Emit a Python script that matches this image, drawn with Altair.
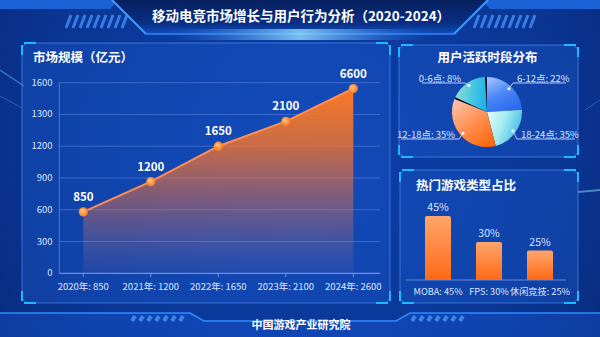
import altair as alt
import pandas as pd

# ---------------- data ----------------
years = ["2020年: 850", "2021年: 1200", "2022年: 1650", "2023年: 2100", "2024年: 2600"]
market_size = [580, 865, 1200, 1435, 1745]
market_labels = ["850", "1200", "1650", "2100", "6600"]
y_tick_values = [0, 300, 600, 900, 1200, 1500, 1800]
y_tick_labels = ["0", "300", "600", "900", "1200", "1300", "1600"]

periods = ["6-12点", "18-24点", "12-18点", "0-6点"]
period_share = [24, 22, 35, 19]
period_labels = ["6-12点: 22%", "18-24点: 35%", "12-18点: 35%", "0-6点: 8%"]

genres = ["MOBA", "FPS", "休闲竞技"]
genre_share = [45, 30, 25]

# ---------------- layout / style ----------------
W, H = 600, 337
FONT = "Noto Sans CJK SC"
TXT = "#dbe6ff"
CYAN = "#22b8ff"
ONE = pd.DataFrame({"k": [1]})


def lin(stops, x1=0, y1=0, x2=0, y2=1):
    return alt.LinearGradient(
        gradient="linear",
        stops=[alt.GradientStop(color=c, offset=o) for o, c in stops],
        x1=x1, y1=y1, x2=x2, y2=y2)


def rad(stops, x1=0.5, y1=0.5, r1=0, x2=0.5, y2=0.5, r2=0.5):
    return alt.RadialGradient(
        gradient="radial",
        stops=[alt.GradientStop(color=c, offset=o) for o, c in stops],
        x1=x1, y1=y1, r1=r1, x2=x2, y2=y2, r2=r2)


def deco_rect(x, y, x2, y2, **mk):
    return alt.Chart(ONE).mark_rect(**mk).encode(
        x=alt.value(x), y=alt.value(y), x2=alt.value(x2), y2=alt.value(y2))


def deco_rule(x, y, x2, y2, **mk):
    return alt.Chart(ONE).mark_rule(**mk).encode(
        x=alt.value(x), y=alt.value(y), x2=alt.value(x2), y2=alt.value(y2))


def deco_poly(px, top, bot, **mk):
    d = pd.DataFrame({"px": px, "top": top, "bot": bot})
    return alt.Chart(d).mark_area(**mk).encode(
        x=alt.X("px:Q", scale=None), y=alt.Y("bot:Q", scale=None), y2="top:Q")


def deco_text(x, y, text, **mk):
    return alt.Chart(ONE).mark_text(text=text, font=FONT, **mk).encode(
        x=alt.value(x), y=alt.value(y))


def panel(x0, y0, x1, y1):
    parts = [deco_rect(x0, y0, x1, y1, cornerRadius=7,
                       fill="rgba(30,95,215,0.32)",
                       stroke="rgba(90,160,255,0.55)", strokeWidth=1)]
    a = 12
    kw = dict(color=CYAN, strokeWidth=2)
    for cx, sx in ((x0, 1), (x1, -1)):
        for cy, sy in ((y0, 1), (y1, -1)):
            parts.append(deco_rule(cx, cy + sy * 2, cx, cy + sy * a, **kw))
            parts.append(deco_rule(cx + sx * 2, cy, cx + sx * (a + 2), cy, **kw))
    return parts


def stripes(x_start, y_top, y_bot, n, step, lean, colour, width=3):
    return [deco_rule(x_start + i * step, y_bot, x_start + i * step + lean, y_top,
                      color=colour, strokeWidth=width) for i in range(n)]


layers = []

# ---------------- backdrop ----------------
layers.append(deco_rect(0, 0, W, H, fill=rad(
    [(0, "#0d41ad"), (0.6, "#0a3593"), (1, "#062166")],
    x1=0.5, y1=0.45, r1=0, x2=0.5, y2=0.45, r2=0.75)))
layers.append(deco_rule(0, 70, 24, 86, color="rgba(120,200,255,0.45)", strokeWidth=1.5))
layers.append(deco_rule(0, 96, 22, 108, color="rgba(120,200,255,0.3)", strokeWidth=1))
layers.append(deco_rule(578, 192, 600, 190, color="rgba(140,220,255,0.5)", strokeWidth=2))
layers.append(deco_rule(585, 110, 600, 100, color="rgba(120,200,255,0.3)", strokeWidth=1))

# ---------------- header ----------------
layers.append(deco_poly([0, 110, 118], [0, 0, 0], [9, 9, 0], fill="#1a62d6"))
layers.append(deco_poly([482, 490, 600], [0, 0, 0], [0, 9, 9], fill="#1a62d6"))
layers.append(deco_poly([112, 146, 454, 488], [0, 0, 0, 0], [0, 34, 34, 0],
                        fill=lin([(0, "#07205e"), (0.7, "#0a2f86"), (1, "#1050c0")])))
for seg in ((112, 0, 146, 34), (454, 34, 488, 0)):
    layers.append(deco_rule(*seg, color="#3c9cff", strokeWidth=2))
layers.append(deco_rule(146, 34, 454, 34, color="#2f86f0", strokeWidth=1.5))
layers.append(deco_rect(170, 29, 430, 40, fill=rad(
    [(0, "rgba(150,225,255,0.8)"), (1, "rgba(60,140,255,0)")])))
layers += stripes(66, 15, 28, 9, 7, 5, "rgba(70,150,255,0.75)")
layers += stripes(474, 15, 28, 9, 7, 5, "rgba(70,150,255,0.75)")
layers.append(deco_text(301, 17, "移动电竞市场增长与用户行为分析（2020-2024）",
                        fontSize=13.5, fontWeight="bold", color="white",
                        align="center", baseline="middle"))

# ---------------- footer ----------------
layers.append(deco_poly([0, 190, 204, 396, 410, 600],
                        [313, 313, 321, 321, 313, 313], [337] * 6,
                        fill="rgba(25,95,225,0.35)"))
for seg in ((0, 313, 190, 313), (190, 313, 204, 321), (204, 321, 396, 321),
            (396, 321, 410, 313), (410, 313, 600, 313)):
    layers.append(deco_rule(*seg, color="#2f8cff", strokeWidth=1.5))
layers += stripes(132, 316, 321, 7, 8, 3, "rgba(80,160,255,0.7)", width=4)
layers += stripes(412, 316, 321, 7, 8, 3, "rgba(80,160,255,0.7)", width=4)
layers.append(deco_text(301, 326, "中国游戏产业研究院", fontSize=11, fontWeight="bold",
                        color="white", align="center", baseline="middle"))

# ---------------- panels ----------------
layers += panel(22, 43, 390, 303)
layers += panel(399, 45, 578, 157)
layers += panel(400, 170, 578, 303)

layers.append(deco_text(33, 57.5, "市场规模（亿元）", fontSize=12.5, fontWeight="bold",
                        color="white", align="left", baseline="middle"))
layers.append(deco_text(487.5, 58, "用户活跃时段分布", fontSize=12.5, fontWeight="bold",
                        color="white", align="center", baseline="middle"))
layers.append(deco_text(416, 186, "热门游戏类型占比", fontSize=12.5, fontWeight="bold",
                        color="white", align="left", baseline="middle"))

# ---------------- market size line / area ----------------
line_df = pd.DataFrame({"year": years, "size": market_size, "label": market_labels})
tick_df = pd.DataFrame({"tick": y_tick_values, "text": y_tick_labels})

X_LINE = alt.Scale(type="point", domain=years, range=[83.3, 353.3], padding=0)
Y_LINE = alt.Scale(domain=[0, 1800], range=[273.3, 82.7], nice=False, zero=True)
xl = alt.X("year:N", scale=X_LINE, axis=None)
yl = alt.Y("size:Q", scale=Y_LINE, axis=None)
yt = alt.Y("tick:Q", scale=Y_LINE, axis=None)

layers.append(alt.Chart(tick_df).mark_rule(color="rgba(150,180,255,0.32)", strokeWidth=1)
              .encode(y=yt, x=alt.value(59.3), x2=alt.value(380)))
layers.append(alt.Chart(ONE).mark_rule(color="rgba(150,180,255,0.45)", strokeWidth=1)
              .encode(x=alt.value(59.3), y=alt.YDatum(0, scale=Y_LINE, axis=None),
                      y2=alt.Y2Datum(1800)))
layers.append(alt.Chart(ONE).mark_rule(color="rgba(170,195,255,0.6)", strokeWidth=1)
              .encode(x=alt.value(59.3), x2=alt.value(380),
                      y=alt.YDatum(0, scale=Y_LINE, axis=None)))
layers.append(alt.Chart(line_df).mark_rule(color="rgba(170,195,255,0.6)", strokeWidth=1)
              .encode(x=xl, y=alt.value(273.3), y2=alt.value(277)))
layers.append(alt.Chart(tick_df).mark_text(font=FONT, fontSize=9.5, color=TXT,
                                           align="right", baseline="middle")
              .encode(y=yt, x=alt.value(52.5), text="text:N"))

area_fill = lin([(0, "rgba(255,122,34,0.98)"), (0.3, "rgba(242,115,45,0.82)"),
                 (0.6, "rgba(225,110,70,0.5)"), (1, "rgba(180,120,150,0.08)")])
layers.append(alt.Chart(line_df).mark_area(color=area_fill).encode(x=xl, y=yl))
layers.append(alt.Chart(line_df).mark_line(color="#ff8d52", strokeWidth=2).encode(x=xl, y=yl))
layers.append(alt.Chart(line_df).mark_circle(
    size=85, opacity=1,
    color=rad([(0, "#ffd3a4"), (0.55, "#ff9a45"), (1, "#ff7418")],
              x1=0.38, y1=0.35, r1=0, x2=0.5, y2=0.5, r2=0.55))
    .encode(x=xl, y=yl))
layers.append(alt.Chart(line_df).mark_text(font=FONT, fontSize=11.5, fontWeight="bold",
                                           color="white", dy=-14, baseline="middle")
              .encode(x=xl, y=yl, text="label:N"))
layers.append(alt.Chart(line_df).mark_text(font=FONT, fontSize=9.5, color=TXT,
                                           baseline="middle")
              .encode(x=xl, y=alt.value(286.5), text="year:N"))

# ---------------- active-hours pie ----------------
CX, CY, R = 487, 112, 35
pie_df = pd.DataFrame({"period": periods, "share": period_share,
                       "label": period_labels, "order": list(range(len(periods)))})


def pie_base():
    return (alt.Chart(pie_df)
            .transform_window(cum="sum(share)", sort=[alt.SortField("order")])
            .transform_joinaggregate(total="sum(share)")
            .transform_calculate(
                a0="(datum.cum - datum.share) / datum.total * 2 * PI",
                a1="datum.cum / datum.total * 2 * PI")
            .transform_calculate(mid="(datum.a0 + datum.a1) / 2")
            .transform_calculate(
                sx="sin(datum.mid) >= 0 ? 1 : -1",
                sy="cos(datum.mid) >= 0 ? -1 : 1",
                dot_x=f"{CX} + 32 * sin(datum.mid)",
                dot_y=f"{CY} - 32 * cos(datum.mid)")
            .transform_calculate(
                ex="datum.dot_x + 4 * datum.sx",
                ey=f"datum.sy < 0 ? {CY} - 29 : {CY} + 27",
                ulen="5 * length(datum.label) + 3"))


slice_fill = {
    "6-12点": lin([(0, "#a9c7ff"), (0.55, "#4a86f6"), (1, "#2d6cf0")], 0, 0, 0.5, 1),
    "18-24点": lin([(0, "#e8fdfd"), (0.5, "#a8ecf0"), (1, "#48bfe6")], 0, 0, 1, 0.4),
    "12-18点": lin([(0, "#ffc2ac"), (0.5, "#ff9256"), (1, "#ff6810")], 0.1, 0, 0.8, 1),
    "0-6点": lin([(0, "#90dcd8"), (0.5, "#4cc8e0"), (1, "#18b2ec")], 0, 0.5, 1, 0.6),
}

layers.append(alt.Chart(ONE).mark_arc(outerRadius=R - 0.5, theta=0, theta2=6.2832,
                                      fill="#070d26")
              .encode(x=alt.value(CX), y=alt.value(CY)))
for p in periods:
    mk = dict(outerRadius=R, fill=slice_fill[p])
    if p == "0-6点":
        mk["padAngle"] = 0.12
    layers.append(pie_base().transform_filter(alt.datum.period == p)
                  .mark_arc(**mk)
                  .encode(theta=alt.Theta("a0:Q", scale=None), theta2="a1:Q",
                          x=alt.value(CX), y=alt.value(CY)))

layers.append(pie_base().mark_rule(color="rgba(215,228,255,0.85)", strokeWidth=1)
              .encode(x=alt.X("dot_x:Q", scale=None), y=alt.Y("dot_y:Q", scale=None),
                      x2="ex:Q", y2="ey:Q"))
layers.append(pie_base().transform_calculate(ux="datum.ex + datum.sx * datum.ulen")
              .mark_rule(color="rgba(215,228,255,0.85)", strokeWidth=1)
              .encode(x=alt.X("ex:Q", scale=None), y=alt.Y("ey:Q", scale=None),
                      x2="ux:Q"))
layers.append(pie_base().mark_circle(size=9, color="white", opacity=1)
              .encode(x=alt.X("dot_x:Q", scale=None), y=alt.Y("dot_y:Q", scale=None)))
for side, align in ((1, "left"), (-1, "right")):
    layers.append(pie_base().transform_filter(f"datum.sx == {side}")
                  .transform_calculate(tx=f"datum.ex + {side} * 4", ty="datum.ey - 1.5")
                  .mark_text(font=FONT, fontSize=9.5, color=TXT, align=align,
                             baseline="alphabetic")
                  .encode(x=alt.X("tx:Q", scale=None), y=alt.Y("ty:Q", scale=None),
                          text="label:N"))

# ---------------- genre bars ----------------
bar_df = pd.DataFrame({"genre": genres, "share": genre_share})
X_BAR = alt.Scale(type="band", domain=genres, range=[412.5, 565.5],
                  paddingInner=0.49, paddingOuter=0.245)
Y_BAR = alt.Scale(domain=[8, 45], range=[280, 216], zero=False, nice=False)
xb = alt.X("genre:N", scale=X_BAR, axis=None)
yb = alt.Y("share:Q", scale=Y_BAR, axis=None)

layers.append(alt.Chart(ONE).mark_rule(color="rgba(170,195,255,0.55)", strokeWidth=1)
              .encode(x=alt.value(406), x2=alt.value(566),
                      y=alt.YDatum(8, scale=Y_BAR, axis=None)))
layers.append(alt.Chart(bar_df).mark_bar(
    opacity=1, cornerRadiusTopLeft=2, cornerRadiusTopRight=2,
    color=lin([(0, "#ffa66c"), (1, "#ff6916")]))
    .encode(x=xb, y=yb, y2=alt.Y2Datum(8)))
layers.append(alt.Chart(bar_df).transform_calculate(t="datum.share + '%'")
              .mark_text(font=FONT, fontSize=10.5, color=TXT, dy=-8, baseline="middle")
              .encode(x=xb, y=yb, text="t:N"))
layers.append(alt.Chart(bar_df).transform_calculate(t="datum.genre + ': ' + datum.share + '%'")
              .mark_text(font=FONT, fontSize=9.2, color=TXT, baseline="middle")
              .encode(x=xb, y=alt.value(292), text="t:N"))

chart = (alt.layer(*layers)
         .resolve_scale(x="independent", y="independent")
         .properties(width=W, height=H, padding=0,
                     autosize=alt.AutoSizeParams(type="none"),
                     background="#07246e")
         .configure_view(stroke="transparent"))

chart.save("out.html", embed_options={"renderer": "svg", "actions": False})
